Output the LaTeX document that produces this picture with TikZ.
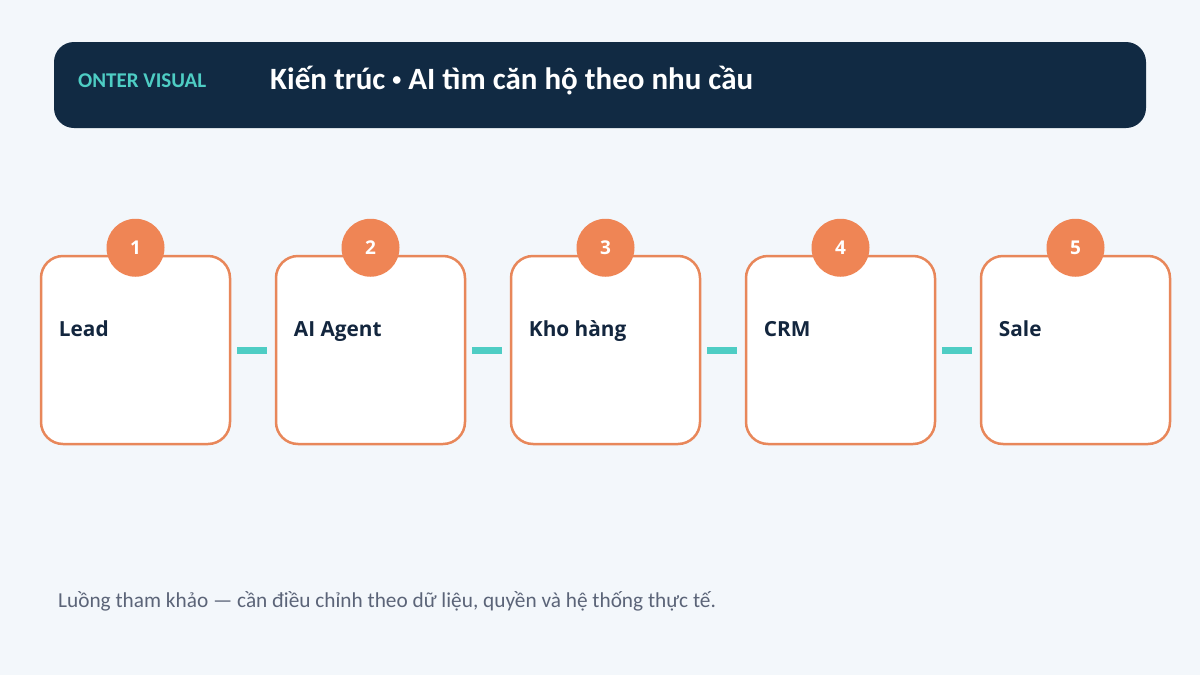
\documentclass[tikz,border=0pt]{standalone}
\usepackage{fontspec}
\setmainfont{Carlito}
\setsansfont{Open Sans}
\usetikzlibrary{positioning}

\definecolor{bgpage}{HTML}{F3F7FB}
\definecolor{navy}{HTML}{112A43}
\definecolor{inkdark}{HTML}{13263E}
\definecolor{stepline}{HTML}{E8875A}
\definecolor{stepfill}{HTML}{EF8555}
\definecolor{tealbar}{HTML}{4ECDC4}
\definecolor{notegray}{HTML}{5B6478}

\begin{document}
\begin{tikzpicture}[x=1pt,y=-1pt,
  stepbox/.style={draw=stepline, line width=2.5pt, fill=white, rounded corners=22pt,
    minimum width=189pt, minimum height=188pt, inner sep=0pt},
  stepnum/.style={circle, fill=stepfill, minimum size=58pt, inner sep=0pt,
    text=white, font=\sffamily\bfseries\fontsize{19}{19}\selectfont},
  steplabel/.style={anchor=base west, inner sep=0pt, text=inkdark,
    font=\sffamily\bfseries\fontsize{20.8}{20.8}\selectfont},
  link/.style={draw=tealbar, line width=7pt, shorten <=6pt, shorten >=8pt}]
  \def\pitch{235}
  % page
  \fill[bgpage] (0,0) rectangle (1200,675);
  \useasboundingbox (0,0) rectangle (1200,675);

  % header
  \node[fill=navy, rounded corners=20pt, minimum width=1092pt, minimum height=86pt,
    inner sep=0pt] (header) at (600,85) {};
  \node[anchor=west, inner sep=0pt, text=tealbar,
    font=\bfseries\fontsize{21}{21}\selectfont] (brand) at (78,81) {ONTER VISUAL};
  \node[anchor=west, inner sep=0pt, text=white,
    font=\bfseries\fontsize{31}{31}\selectfont] (title) at (270,81)
    {Kiến trúc \raisebox{4pt}{\fontsize{18}{18}\selectfont•} AI tìm căn hộ theo nhu cầu};

  % steps
  \foreach \i/\txt in {1/Lead, 2/AI Agent, 3/Kho hàng, 4/CRM, 5/Sale} {
    \node[stepbox] (box\i) at ({135.5+(\i-1)*\pitch},350) {};
    \node[stepnum] (num\i) at ([yshift=7pt]box\i.north) {\i};
    \node[steplabel] (lbl\i) at ([xshift=19pt,yshift=-82pt]box\i.north west) {\txt};
  }
  \foreach \i [evaluate=\i as \j using int(\i+1)] in {1,...,4}
    \draw[link] (box\i.east) -- (box\j.west);

  % note
  \node[anchor=base west, inner sep=0pt, text=notegray,
    font=\fontsize{21.3}{21.3}\selectfont] (note) at (58,607)
    {Luồng tham khảo — cần điều chỉnh theo dữ liệu, quyền và hệ thống thực tế.};
\end{tikzpicture}
\end{document}
